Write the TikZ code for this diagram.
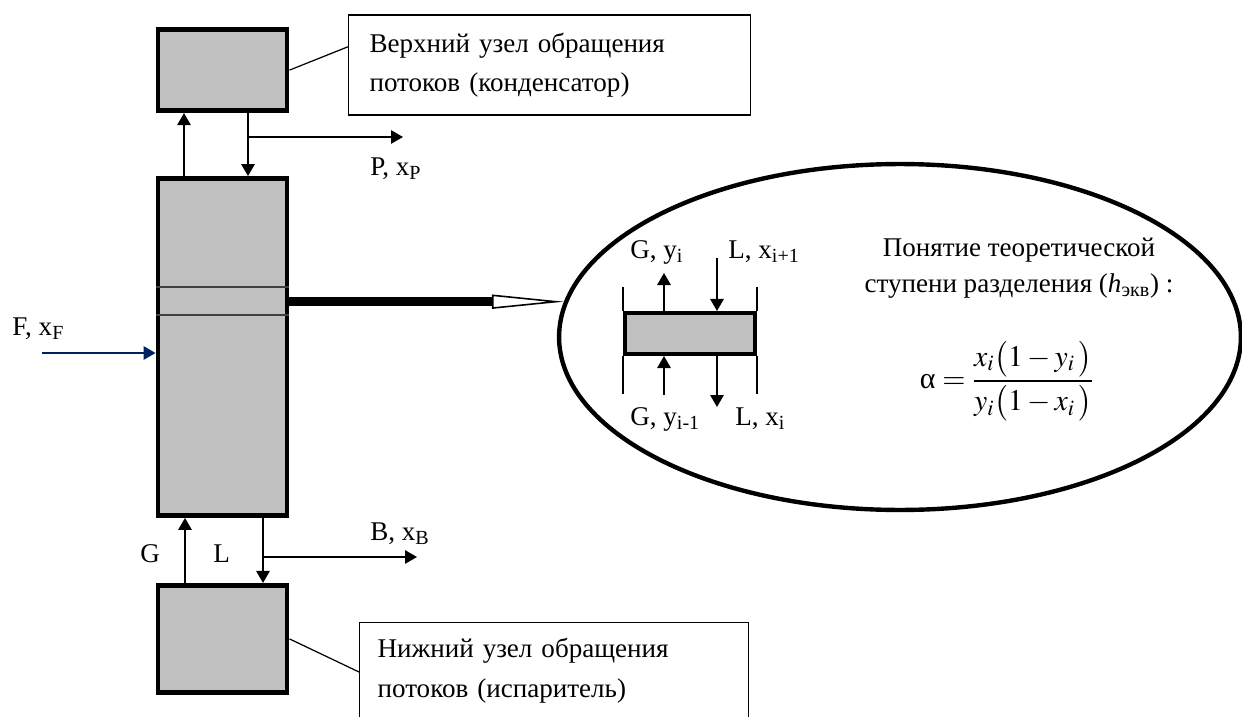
\documentclass[tikz,border=0pt]{standalone}
\usepackage{mathptmx}
\usepackage[no-math]{fontspec}
\setmainfont{Liberation Serif}
\usetikzlibrary{arrows.meta,positioning,calc,shapes.geometric}
\definecolor{feedblue}{RGB}{0,32,96}
\definecolor{unitgray}{RGB}{192,192,192}

\begin{document}
\begin{tikzpicture}[
  x=0.02cm, y=-0.02cm,
  every node/.style={font=\fontsize{15.4}{22.5}\selectfont},
  unit/.style={draw, line width=2.8pt, fill=unitgray, inner sep=0pt,
               minimum width=2.58cm},
  note/.style={draw, line width=0.7pt, fill=white, align=left},
  flow/.style={-{Triangle[length=0.24cm, width=0.27cm]}, line width=0.75pt},
  lbl/.style={inner sep=0pt, anchor=base west},
]
\useasboundingbox (0,0) rectangle (1242,717);

% column with condenser and reboiler
\node[unit, minimum height=6.74cm] (col) at (222.5,347) {};
\node[unit, minimum height=1.62cm, above=1.26cm of col] (cond) {};
\node[unit, minimum height=2.14cm, below=1.3cm of col] (reb) {};

\coordinate (tray1) at (0,287);
\coordinate (tray2) at (0,315);
\draw[line width=0.8pt, black!75] (col.west |- tray1) -- (col.east |- tray1)
                                  (col.west |- tray2) -- (col.east |- tray2);

% top streams
\coordinate (vapT) at (184,0);
\coordinate (liqT) at (248,0);
\coordinate (prod) at (403,137);
\draw[flow] (vapT |- col.north) -- (vapT |- cond.south);
\draw[flow] (liqT |- cond.south) -- (liqT |- col.north);
\draw[flow] (liqT |- prod) -- (prod);
\node[lbl] at (370,175) {P, x\textsubscript{P}};

% bottom streams
\coordinate (vapB) at (185,0);
\coordinate (liqB) at (263,0);
\coordinate (bott) at (417,557);
\draw[flow] (vapB |- reb.north) -- (vapB |- col.south);
\draw[flow] (liqB |- col.south) -- (liqB |- reb.north);
\draw[flow] (liqB |- bott) -- (bott);
\node[lbl] at (370,540) {B, x\textsubscript{B}};
\node[lbl] at (140,562) {G};
\node[lbl] at (213,562) {L};

% feed
\coordinate (feed) at (42,353);
\draw[flow, feedblue] (feed) -- (feed -| col.west);
\node[lbl] at (12,335) {F, x\textsubscript{F}};

% callouts
\node[note, text width=7.2cm, inner xsep=0.42cm, minimum height=2cm] (topnote)
  at (549.5,65) {Верхний узел обращения\\потоков (конденсатор)};
\draw[line width=0.7pt] (cond.east) -- ($(topnote.north west)!0.32!(topnote.south west)$);

\node[note, text width=7.06cm, inner xsep=0.36cm, inner ysep=0.32cm,
      text depth=1.5cm, anchor=north west] (botnote)
  at (359,622) {Нижний узел обращения\\потоков (испаритель)};
\draw[line width=0.7pt] (reb.east) -- ([yshift=-1cm]botnote.north west);

% detail of one stage
\node[draw, ellipse, line width=2.5pt, inner sep=0pt,
      minimum width=13.64cm, minimum height=6.92cm] (detail) at (900,337) {};
\draw[line width=5.1pt, -{Triangle[open, length=1.44cm, width=0.28cm, line width=0.9pt]}]
  (col.east |- detail.174) -- (detail.174);

\node[unit, line width=2.3pt, minimum width=2.6cm, minimum height=0.82cm] (stage)
  at (690,333.5) {};
\foreach \s in {west,east}
  \draw[line width=0.75pt] (stage.north \s) -- ++(0,-24) (stage.south \s) -- ++(0,38);

\coordinate (gyi) at (664,273);
\coordinate (lxi1) at (717,258);
\coordinate (gyim) at (664,395);
\coordinate (lxi) at (717,407);
\draw[flow] (gyi |- stage.north) -- (gyi);
\draw[flow] (lxi1) -- (lxi1 |- stage.north);
\draw[flow] (gyim) -- (gyim |- stage.south);
\draw[flow] (lxi |- stage.south) -- (lxi);
\node[lbl] at (630,258) {G, y\textsubscript{i}};
\node[lbl] at (728,258) {L, x\textsubscript{i+1}};
\node[lbl] at (630,425) {G, y\textsubscript{i-1}};
\node[lbl] at (735,425) {L, x\textsubscript{i}};

\node[align=center, font=\fontsize{15.4}{20.5}\selectfont] (htext) at (1019,268)
  {Понятие теоретической\\ступени разделения (\textit{h}\textsubscript{экв}) :};
\node[font=\fontsize{17}{20}\selectfont] (alpha) at (1007,381)
  {$\displaystyle \mbox{α} = \frac{x_i\bigl(1-y_i\,\bigr)}{y_i\bigl(1-x_i\,\bigr)}$};
\end{tikzpicture}
\end{document}
